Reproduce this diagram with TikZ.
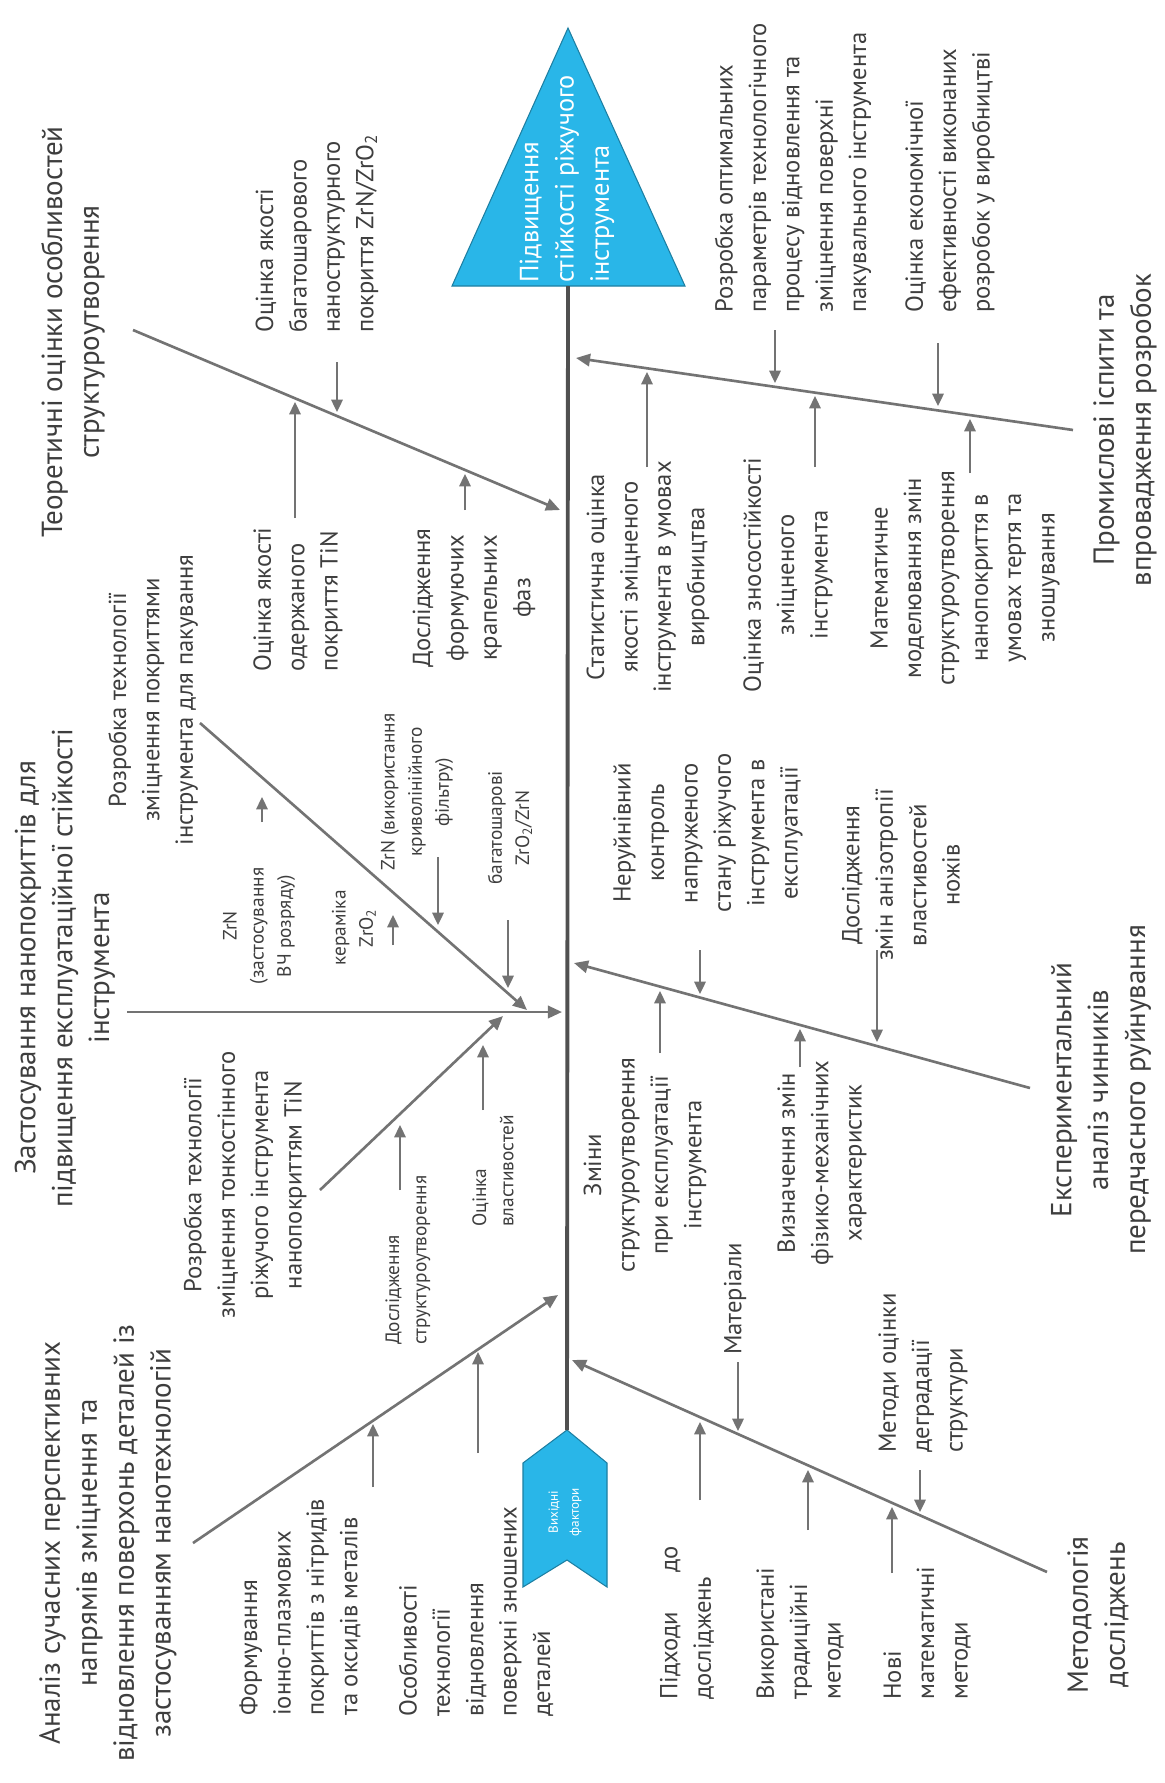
\documentclass[tikz,border=0pt]{standalone}
\usepackage{fontspec}
\setmainfont{PT Sans}
\usetikzlibrary{arrows.meta}

\definecolor{fishblue}{RGB}{41,182,232}
\definecolor{bonegray}{RGB}{115,115,115}
\definecolor{spinegray}{RGB}{80,80,80}
\definecolor{ink}{RGB}{62,62,62}

\tikzset{
  spine/.style={spinegray, line width=2.2pt},
  bone/.style={bonegray, line width=1.5pt, -{Triangle[length=8pt,width=7pt]}},
  twig/.style={bonegray, line width=1.1pt, -{Triangle[length=7pt,width=6.5pt]}},
  fishhead/.style={fill=fishblue, draw=fishblue!70!black, line width=0.6pt},
  headtxt/.style={rotate=90, text=white, inner sep=0pt, align=left, font=\fontsize{15}{20}\selectfont},
  tailtxt/.style={rotate=90, text=white, inner sep=0pt, align=center, font=\fontsize{7.5}{12}\selectfont},
  cause/.style={rotate=90, text=ink, inner sep=0pt, align=center, font=\fontsize{16.5}{21}\selectfont},
  item/.style={rotate=90, text=ink, inner sep=0pt, font=\fontsize{14}{19}\selectfont},
  note/.style={rotate=90, text=ink, inner sep=0pt, font=\fontsize{11}{15.5}\selectfont}
}

\begin{document}
\begin{tikzpicture}[x=0.02cm,y=-0.02cm]
\useasboundingbox[fill=white] (0,0) rectangle (1164,1783);

% head of the fish
\coordinate (apex) at (568,28);
\coordinate (hl) at (452,286);
\coordinate (hr) at (685,286);
\coordinate (hb) at (568,286);
\filldraw[fishhead] (apex) -- (hr) -- (hl) -- cycle;
\node[headtxt,anchor=west] (goal) at (567,283) {Підвищення\\стійкості ріжучого\\інструмента};

% tail
\coordinate (tt) at (567,1430);
\filldraw[fishhead] (tt) -- (607,1463) -- (607,1587) -- (567,1560) -- (523,1587) -- (523,1463) -- cycle;
\node[tailtxt] (src) at (565,1512) {Вихідні\\фактори};

\draw[spine] (hb) -- (tt);

% main bones
\coordinate (b1s) at (133,330);   \coordinate (b1e) at (560,510);
\coordinate (b2s) at (127,1012);  \coordinate (b2e) at (562,1012);
\coordinate (b2as) at (200,723);  \coordinate (b2ae) at (527,1010);
\coordinate (b2bs) at (320,1190); \coordinate (b2be) at (503,1016);
\coordinate (b3s) at (193,1543);  \coordinate (b3e) at (558,1295);
\coordinate (b4s) at (1073,430);  \coordinate (b4e) at (576,358);
\coordinate (b5s) at (1030,1088); \coordinate (b5e) at (574,963);
\coordinate (b6s) at (1047,1572); \coordinate (b6e) at (572,1360);

\draw[bone] (b1s) -- (b1e);
\draw[bone] (b2s) -- (b2e);
\draw[bone] (b2as) -- (b2ae);
\draw[bone] (b2bs) -- (b2be);
\draw[bone] (b3s) -- (b3e);
\draw[bone] (b4s) -- (b4e);
\draw[bone] (b5s) -- (b5e);
\draw[bone] (b6s) -- (b6e);

% small arrows onto the bones
\foreach \n/\x/\a/\b in {11/337/362/412, 12/295/518/402, 13/465/510/474,
    21/262/822/797, 22/393/945/915, 23/438/857/925, 24/508/920/988,
    25/400/1190/1125, 26/483/1110/1045,
    31/373/1487/1424, 32/478/1453/1352,
    41/775/330/383, 42/938/343/406, 43/647/467/372, 44/815/467/396, 45/970/473/419,
    51/700/950/994, 52/877/950/1042, 53/660/1053/991, 54/800/1067/1029,
    61/738/1362/1431, 62/920/1470/1512, 63/700/1500/1422, 64/808/1530/1470, 65/892/1573/1507}
{
  \coordinate (tw\n) at (\x,\a);
  \coordinate (tp\n) at (\x,\b);
  \draw[twig] (tw\n) -- (tp\n);
}

% causes
\node[cause] (theory) at (73,332) {Теоретичні оцінки особливостей\\структуроутворення};
\node[cause] (nano) at (65,968) {Застосування нанопокриттів для\\підвищення експлуатаційної стійкості\\інструмента};
\node[cause] (review) at (108,1543) {Аналіз сучасних перспективних\\напрямів зміцнення та\\відновлення поверхонь деталей із\\застосуванням нанотехнологій};
\node[cause] (trials) at (1125,430) {Промислові іспити та\\впровадження розробок};
\node[cause] (exper) at (1101,1090) {Експериментальний\\аналіз чинників\\передчасного руйнування};
\node[cause] (method) at (1098,1615) {Методологія\\досліджень};

% theory
\node[item,align=left,anchor=west] (zrq) at (317,333) {Оцінка якості\\багатошарового\\наноструктурного\\покриття ZrN/ZrO\textsubscript{2}};
\node[item,align=left,anchor=west] (tinq) at (298,672) {Оцінка якості\\одержаного\\покриття TiN};
\node[item,align=center] (drops) at (474,598) {Дослідження\\формуючих\\крапельних\\фаз};

% nanocoatings
\node[item,align=center] (packtech) at (153,700) {Розробка технології\\зміцнення покриттями\\інструмента для пакування};
\node[note,align=center] (zrnhf) at (259,926) {ZrN\\(застосування\\ВЧ розряду)};
\node[note,align=center] (zro) at (354,928) {кераміка\\ZrO\textsubscript{2}};
\node[note,align=center] (zrnf) at (417,792) {ZrN (використання\\криволінійного\\фільтру)};
\node[note,align=center] (multi) at (510,828) {багатошарові\\ZrO\textsubscript{2}/ZrN};
\node[item,align=center] (thintech) at (245,1185) {Розробка технології\\зміцнення тонкостінного\\ріжучого інструмента\\нанопокриттям TiN};
\node[note,align=left,anchor=west] (struct) at (408,1345) {Дослідження\\структуроутворення};
\node[note,align=left,anchor=west] (props) at (493,1227) {Оцінка\\властивостей};

% review
\node[item,align=left,anchor=west] (ionpl) at (300,1716) {Формування\\іонно-плазмових\\покриттів з нітридів\\та оксидів металів};
\node[item,align=left,anchor=west] (restore) at (476,1717) {Особливості\\технології\\відновлення\\поверхні зношених\\деталей};

% trials
\node[item,align=left,anchor=west] (optim) at (793,313) {Розробка оптимальних\\параметрів технологічного\\процесу відновлення та\\зміцнення поверхні\\пакувального інструмента};
\node[item,align=left,anchor=west] (econ) at (950,313) {Оцінка економічної\\ефективності виконаних\\розробок у виробництві};
\node[item,align=center] (stat) at (648,577) {Статистична оцінка\\якості зміцненого\\інструмента в умовах\\виробництва};
\node[item,align=center] (wear) at (788,575) {Оцінка зносостійкості\\зміцненого\\інструмента};
\node[item,align=center] (model) at (965,578) {Математичне\\моделювання змін\\структуроутворення\\нанопокриття в\\умовах тертя та\\зношування};

% experiment
\node[item,align=center] (ndt) at (708,833) {Неруйнівний\\контроль\\напруженого\\стану ріжучого\\інструмента в\\експлуатації};
\node[item,align=center] (aniso) at (901,875) {Дослідження\\змін анізотропії\\властивостей\\ножів};
\node[item,align=center] (change) at (645,1165) {Зміни\\структуроутворення\\при експлуатації\\інструмента};
\node[item,align=center] (phys) at (822,1163) {Визначення змін\\фізико-механічних\\характеристик};

% methodology
\node[item,align=left,anchor=west] (mater) at (735,1355) {Матеріали};
\node[item,align=left,anchor=west] (degr) at (923,1453) {Методи оцінки\\деградації\\структури};
\node[item,align=left,anchor=west] (appr) at (687,1700) {Підходи\hspace{1.6em}до\\досліджень};
\node[item,align=left,anchor=west] (trad) at (800,1700) {Використані\\традиційні\\методи};
\node[item,align=left,anchor=west] (newm) at (927,1700) {Нові\\математичні\\методи};

\end{tikzpicture}
\end{document}
